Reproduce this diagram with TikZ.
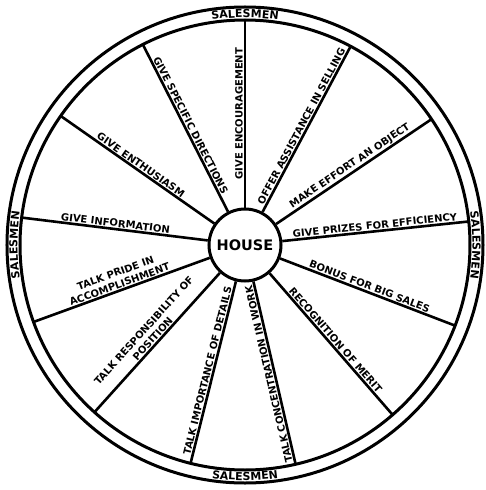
\documentclass[tikz,border=0pt]{standalone}
\usepackage{fontspec}
\newfontfamily\wheelfont{DejaVu Sans}
\usepackage{tikz}
\usetikzlibrary{decorations.text}
\newcommand{\spokefont}{\wheelfont\bfseries\fontsize{10}{12}\selectfont}
\newcommand{\salesfont}{\wheelfont\bfseries\fontsize{11}{12}\selectfont}
\newcommand{\hubfont}{\wheelfont\bfseries\fontsize{14.5}{16}\selectfont}

\begin{document}
\begin{tikzpicture}[
  x=1pt, y=1pt,
  ring/.style = {circle, draw, line width=3pt, inner sep=0pt, outer sep=0pt},
  hub/.style = {circle, draw, line width=3pt, minimum size=72pt,
                inner sep=0pt, font=\hubfont},
  spoke/.style = {line width=2.6pt},
  spokelabel/.style = {sloped, above, allow upside down, pos=0.5,
                       font=\spokefont, inner sep=2.2pt, outer sep=0pt,
                       align=center},
  rimtext/.style = {decorate, decoration={text along path,
                    text={|\salesfont|#1}, text align=center}}
]
\useasboundingbox (-245,-245) rectangle (240,245);

% wheel
\node[ring, minimum size=476pt] (tyre) at (0,0) {};
\node[ring, minimum size=450pt] (rim)  at (0,0) {};
\node[hub]                      (house) at (0,0) {HOUSE};

% spokes, read outward
\draw[spoke] (house.90)     -- (rim.90)     node[spokelabel] {GIVE ENCOURAGEMENT};
\draw[spoke] (house.62.31)  -- (rim.62.31)  node[spokelabel] {OFFER ASSISTANCE IN SELLING};
\draw[spoke] (house.34.62)  -- (rim.34.62)  node[spokelabel] {MAKE EFFORT AN OBJECT};
\draw[spoke] (house.6.92)   -- (rim.6.92)   node[spokelabel] {GIVE PRIZES FOR EFFICIENCY};
\draw[spoke] (house.339.23) -- (rim.339.23) node[spokelabel] {BONUS FOR BIG SALES};
\draw[spoke] (house.311.54) -- (rim.311.54) node[spokelabel] {RECOGNITION OF MERIT};
% spokes, read inward
\draw[spoke] (rim.283.85) -- (house.283.85) node[spokelabel] {TALK CONCENTRATION IN WORK};
\draw[spoke] (rim.256.15) -- (house.256.15) node[spokelabel] {TALK IMPORTANCE OF DETAILS};
\draw[spoke] (rim.228.46) -- (house.228.46) node[spokelabel] {TALK RESPONSIBILITY OF\\POSITION};
\draw[spoke] (rim.200.77) -- (house.200.77) node[spokelabel] {TALK PRIDE IN\\ACCOMPLISHMENT};
\draw[spoke] (rim.173.08) -- (house.173.08) node[spokelabel] {GIVE INFORMATION};
\draw[spoke] (rim.145.38) -- (house.145.38) node[spokelabel] {GIVE ENTHUSIASM};
\draw[spoke] (rim.117.69) -- (house.117.69) node[spokelabel] {GIVE SPECIFIC DIRECTIONS};

% salesmen round the rim
\path[rimtext=SALESMEN] (105:227.5pt) arc[start angle=105, end angle=75,  radius=227.5pt];
\path[rimtext=SALESMEN] (255:235.5pt) arc[start angle=255, end angle=285, radius=235.5pt];
\path[rimtext=SALESMEN] (195:227.5pt) arc[start angle=195, end angle=165, radius=227.5pt];
\path[rimtext=SALESMEN] (15:227.5pt)  arc[start angle=15,  end angle=-15, radius=227.5pt];
\end{tikzpicture}
\end{document}
